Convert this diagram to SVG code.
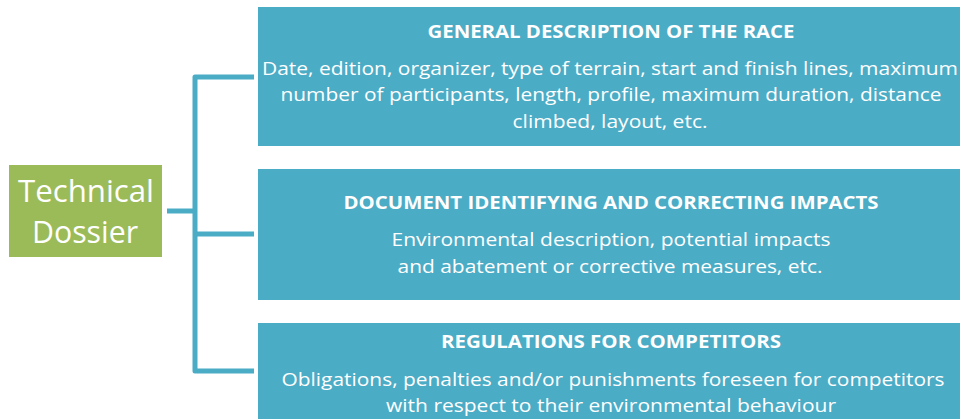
<svg xmlns="http://www.w3.org/2000/svg" width="960" height="419" viewBox="0 0 960 419">
<style>
.box{fill:#4BACC6}
.t{font-family:"Open Sans","Liberation Sans",sans-serif;fill:#fff;text-anchor:middle}
.h{font-size:17px;font-weight:bold}
.b{font-size:19px}
.g{font-size:31px}
.c{stroke:#4BACC6;stroke-width:5;fill:none;stroke-linejoin:round}
</style>
<rect width="960" height="419" fill="#fff"/>
<g id="connectors">
<path class="c" d="M167 211H195"/>
<path class="c" d="M254 77H195V371H254"/>
<path class="c" d="M195 234H254"/>
</g>
<g id="technical-dossier">
<rect x="9" y="165" width="153" height="92" fill="#9BBB59"/>
<text class="t g" x="86" y="202" textLength="136" lengthAdjust="spacingAndGlyphs">Technical</text>
<text class="t g" x="85" y="243" textLength="106" lengthAdjust="spacingAndGlyphs">Dossier</text>
</g>
<g id="general-description">
<rect class="box" x="258" y="7" width="710" height="139"/>
<text class="t h" x="611" y="38" textLength="367" lengthAdjust="spacingAndGlyphs">GENERAL DESCRIPTION OF THE RACE</text>
<text class="t b" x="610" y="75" textLength="696" lengthAdjust="spacingAndGlyphs">Date, edition, organizer, type of terrain, start and finish lines, maximum</text>
<text class="t b" x="611" y="101" textLength="661" lengthAdjust="spacingAndGlyphs">number of participants, length, profile, maximum duration, distance</text>
<text class="t b" x="610" y="128" textLength="195" lengthAdjust="spacingAndGlyphs">climbed, layout, etc.</text>
</g>
<g id="impacts-document">
<rect class="box" x="258" y="169" width="710" height="131"/>
<text class="t h" x="611" y="209" textLength="535" lengthAdjust="spacingAndGlyphs">DOCUMENT IDENTIFYING AND CORRECTING IMPACTS</text>
<text class="t b" x="611" y="246" textLength="439" lengthAdjust="spacingAndGlyphs">Environmental description, potential impacts</text>
<text class="t b" x="610" y="273" textLength="425" lengthAdjust="spacingAndGlyphs">and abatement or corrective measures, etc.</text>
</g>
<g id="regulations">
<rect class="box" x="258" y="323" width="710" height="110"/>
<text class="t h" x="611" y="348" textLength="340" lengthAdjust="spacingAndGlyphs">REGULATIONS FOR COMPETITORS</text>
<text class="t b" x="613" y="386" textLength="663" lengthAdjust="spacingAndGlyphs">Obligations, penalties and/or punishments foreseen for competitors</text>
<text class="t b" x="611" y="412" textLength="450" lengthAdjust="spacingAndGlyphs">with respect to their environmental behaviour</text>
</g>
</svg>
